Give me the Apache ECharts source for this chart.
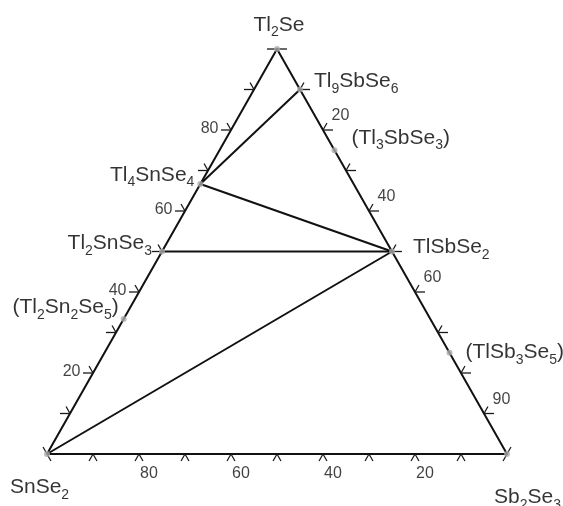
<!DOCTYPE html>
<html><head><meta charset="utf-8">
<script src="https://cdn.jsdelivr.net/npm/echarts@6/dist/echarts.min.js"></script>
<style>html,body{margin:0;padding:0;background:#fff}#c{width:563px;height:506px}</style>
</head><body><div id="c"></div>
<script>
// ---- data (mol.%) ----
const compoundNames = ['Tl2Se','Tl9SbSe6','(Tl3SbSe3)','TlSbSe2','(TlSb3Se5)','Sb2Se3','SnSe2','(Tl2Sn2Se5)','Tl2SnSe3','Tl4SnSe4'];
const tl2seMol  = [100, 90, 75, 50, 25, 0, 0, 33.33, 50, 66.67];
const sb2se3Mol = [0, 10, 25, 50, 75, 100, 0, 0, 0, 0];
const triangleCorners = ['SnSe2','Sb2Se3','Tl2Se','SnSe2'];
const tieLines = [['Tl4SnSe4','Tl9SbSe6'],['Tl4SnSe4','TlSbSe2'],['Tl2SnSe3','TlSbSe2'],['SnSe2','TlSbSe2']];
const tickValues = [0,10,20,30,40,50,60,70,80,90,100];
const leftTickLabels   = ['20','40','60','80'];  // Tl2Se on SnSe2–Tl2Se side
const rightTickLabels  = ['20','40','60','90'];  // Sb2Se3 on Tl2Se–Sb2Se3 side
const bottomTickLabels = ['80','60','40','20'];  // SnSe2 on Sb2Se3–SnSe2 side

// ---- styling ----
const FONT = "'Liberation Sans', Arial, Helvetica, sans-serif";
const labelPlacement = {
  'Tl2Se':       ['center', 2, -23.4],
  'Tl9SbSe6':    ['left', 14, -7.7],
  '(Tl3SbSe3)':  ['left', 17, -12],
  'TlSbSe2':     ['left', 21, -3.5],
  '(TlSb3Se5)':  ['left', 16, 0],
  'Sb2Se3':      ['left', -13, 44],
  'SnSe2':       ['left', -37, 34],
  '(Tl2Sn2Se5)': ['right', -5, -11],
  'Tl2SnSe3':    ['right', -10, -7.5],
  'Tl4SnSe4':    ['right', -6, -8.4]
};

// ternary -> cartesian (x along SnSe2→Sb2Se3, y = Tl2Se)
function toXY(tl, sb) { return [sb + tl / 2, tl]; }
function ptOf(name) { const i = compoundNames.indexOf(name); return toXY(tl2seMol[i], sb2se3Mol[i]); }

function richName(s) {
  return s.replace(/(\d+)|([^\d]+)/g, (m, d, t) => d ? '{s|' + d + '}' : '{n|' + t + '}');
}

// tick data: [x, y, edge, legsMask]
const tickData = [];
tickValues.forEach(v => {
  const l = toXY(v, 0); tickData.push([l[0], l[1], 0, v === 100 ? 1 : (v === 0 ? 2 : 3)]);
  const r = toXY(100 - v, v); tickData.push([r[0], r[1], 1, v === 0 ? 1 : (v === 100 ? 2 : 3)]);
  const b = toXY(0, 100 - v); tickData.push([b[0], b[1], 2, v === 100 ? 2 : (v === 0 ? 1 : 3)]);
});

function norm(a, b) { const dx = b[0]-a[0], dy = b[1]-a[1], L = Math.hypot(dx, dy); return [dx/L, dy/L]; }

function tickRender(params, api) {
  const p = api.coord([api.value(0), api.value(1)]);
  const edge = api.value(2), mask = api.value(3);
  const A = api.coord(toXY(100, 0)), B = api.coord(toXY(0, 0)), C = api.coord(toXY(0, 100));
  const uL = norm(B, A), uR = norm(A, C);
  let legs;
  if (edge === 0) legs = [[[-1, 0], 10], [[-uR[0], -uR[1]], 8]];
  else if (edge === 1) legs = [[[1, 0], 10], [uL, 8]];
  else legs = [[[-uL[0], -uL[1]], 8], [uR, 8]];
  const children = [];
  legs.forEach((lg, k) => {
    if (!(mask & (1 << k))) return;
    children.push({
      type: 'line',
      shape: { x1: p[0], y1: p[1], x2: p[0] + lg[0][0] * lg[1], y2: p[1] + lg[0][1] * lg[1] },
      style: { stroke: '#1a1a1a', lineWidth: 1.3 }
    });
  });
  return { type: 'group', children };
}

function tickLabelSeries(labels, posFn, align, dx, dy) {
  return {
    type: 'scatter', symbolSize: 0.1, z: 6, silent: true,
    itemStyle: { color: 'rgba(0,0,0,0)' },
    data: labels.map(t => ({ value: posFn(+t), name: t })),
    label: { show: true, position: 'inside', align: align, verticalAlign: 'middle', offset: [dx, dy],
      formatter: p => p.name, fontSize: 16, color: '#111', fontFamily: FONT }
  };
}

const chart = echarts.init(document.getElementById('c'), null, { renderer: 'canvas' });
chart.setOption({
  animation: false,
  backgroundColor: '#fff',
  grid: { left: 47, right: 56, top: 49, bottom: 52 },
  xAxis: { type: 'value', min: 0, max: 100, show: false },
  yAxis: { type: 'value', min: 0, max: 100, show: false },
  series: [
    { type: 'line', data: triangleCorners.map(ptOf), symbol: 'none', z: 2, silent: true,
      lineStyle: { color: '#111', width: 2, join: 'miter' } },
    ...tieLines.map(pair => ({ type: 'line', data: pair.map(ptOf), symbol: 'none', z: 2, silent: true,
      lineStyle: { color: '#111', width: 2 } })),
    { type: 'custom', renderItem: tickRender, data: tickData, z: 3, silent: true },
    tickLabelSeries(leftTickLabels, v => toXY(v, 0), 'right', -12.5, -1),
    tickLabelSeries(rightTickLabels, v => toXY(100 - v, v), 'left', 8.5, -14),
    tickLabelSeries(bottomTickLabels, v => toXY(0, 100 - v), 'center', 10, 20),
    { type: 'scatter', z: 5, silent: true, symbolSize: 6,
      itemStyle: { color: '#aaaaaa' },
      data: compoundNames.map((n, i) => {
        const pl = labelPlacement[n];
        return { name: n, value: toXY(tl2seMol[i], sb2se3Mol[i]),
          label: { align: pl[0], offset: [pl[1], pl[2]] } };
      }),
      label: { show: true, position: 'inside', verticalAlign: 'middle', color: '#000',
        formatter: p => richName(p.name),
        rich: {
          n: { fontSize: 21, lineHeight: 22, verticalAlign: 'top', color: '#000', fontFamily: FONT },
          s: { fontSize: 14, lineHeight: 14, padding: [11, 0, 0, 0], verticalAlign: 'top', color: '#000', fontFamily: FONT }
        } } }
  ]
});
</script></body></html>
